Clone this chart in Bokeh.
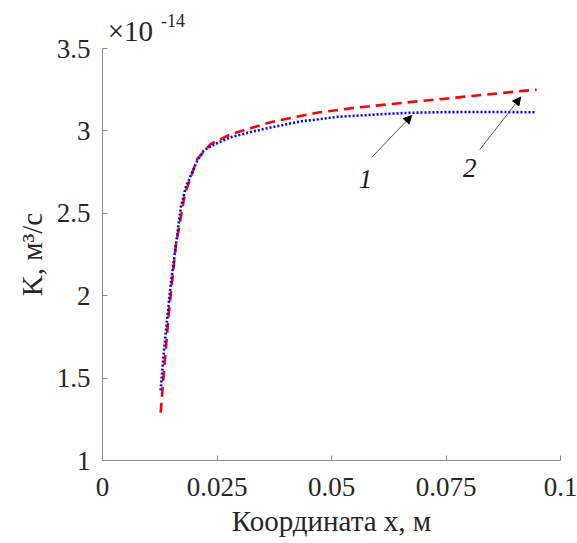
from bokeh.plotting import figure
from bokeh.models import FixedTicker, Label, Arrow, NormalHead, Range1d, LinearAxis
from bokeh.embed import file_html
from bokeh.resources import INLINE

# Curve 1 (blue dotted), K in units of 1e-14 m^3/s
x1 = [0.0127, 0.0134, 0.0149, 0.0171, 0.0182, 0.0207, 0.0221, 0.0229, 0.025, 0.028,
      0.0352, 0.0433, 0.0461, 0.0512, 0.060, 0.0672, 0.075, 0.085, 0.0944]
y1 = [1.425, 1.66, 2.07, 2.535, 2.66, 2.82, 2.88, 2.895, 2.925, 2.962,
      3.012, 3.058, 3.067, 3.085, 3.10, 3.11, 3.114, 3.115, 3.113]

# Curve 2 (red dashed)
x2 = [0.0127, 0.0133, 0.0145, 0.016, 0.018, 0.0207, 0.0236, 0.028, 0.0367, 0.0432,
      0.0468, 0.055, 0.0672, 0.08, 0.0918, 0.0948]
y2 = [1.29, 1.5, 1.9, 2.3, 2.62, 2.83, 2.92, 2.98, 3.053, 3.09,
      3.11, 3.14, 3.175, 3.21, 3.243, 3.25]

x_ticks = [0, 0.025, 0.05, 0.075, 0.1]
x_tick_labels = ["0", "0.025", "0.05", "0.075", "0.1"]
y_ticks = [1, 1.5, 2, 2.5, 3, 3.5]
y_tick_labels = ["1", "1.5", "2", "2.5", "3", "3.5"]
exp_base = "×10"
exp_power = "-14"

FONT = "Liberation Serif"

p = figure(width=577, height=543, output_backend="svg", toolbar_location=None,
           x_range=Range1d(0, 0.1), y_range=Range1d(1, 3.5),
           min_border_left=102, min_border_right=17, min_border_top=48, min_border_bottom=83)
p.outline_line_color = None
p.grid.visible = False
p.background_fill_color = "white"

xa = p.below[0]
ya = p.left[0]


def text_axis(pos, label, size, standoff):
    ax = LinearAxis(ticker=FixedTicker(ticks=[pos]),
                    major_label_overrides={pos: label})
    ax.axis_line_color = None
    ax.major_tick_line_color = None
    ax.minor_tick_line_color = None
    ax.major_tick_in = 0
    ax.major_tick_out = 0
    ax.major_label_text_font = FONT
    ax.major_label_text_font_size = size
    ax.major_label_text_color = "#262626"
    ax.major_label_standoff = standoff
    return ax


# exponent multiplier drawn as two stacked "above" text axes
p.add_layout(text_axis(0.0061, exp_base, "29px", 2), "above")
p.add_layout(text_axis(0.0154, exp_power, "18px", -15), "above")

p.line(x2, y2, line_color="#ff0000", line_width=2.6, line_dash="10 6")
p.line(x1, y1, line_color="#0000ff", line_width=2.6, line_dash="2 2")

for ax in (xa, ya):
    ax.axis_line_color = "#8c8c8c"
    ax.major_tick_line_color = "#8c8c8c"
    ax.minor_tick_line_color = None
    ax.major_tick_in = 5
    ax.major_tick_out = 0
    ax.major_label_text_font = FONT
    ax.major_label_text_font_size = "27px"
    ax.major_label_text_color = "#262626"
    ax.axis_label_text_font = FONT
    ax.axis_label_text_font_size = "29px"
    ax.axis_label_text_font_style = "normal"
    ax.axis_label_text_color = "#262626"

xa.ticker = FixedTicker(ticks=x_ticks)
xa.major_label_overrides = dict(zip(x_ticks, x_tick_labels))
ya.ticker = FixedTicker(ticks=y_ticks)
ya.major_label_overrides = dict(zip(y_ticks, y_tick_labels))
xa.axis_label = "Координата x, м"
ya.axis_label = "K, м³/с"
xa.major_label_standoff = 17
ya.major_label_standoff = 12
xa.axis_label_standoff = 6
ya.axis_label_standoff = 6

# arrows and curve numbers
p.add_layout(Arrow(x_start=0.0588, y_start=2.84, x_end=0.0675, y_end=3.093,
                   line_color="#444444", line_width=0.9,
                   end=NormalHead(size=8, fill_color="black", line_color="black")))
p.add_layout(Arrow(x_start=0.0824, y_start=2.887, x_end=0.0913, y_end=3.205,
                   line_color="#444444", line_width=0.9,
                   end=NormalHead(size=8, fill_color="black", line_color="black")))
p.add_layout(Label(x=0.0574, y=2.711, text="1", text_font=FONT, text_font_size="27px",
                   text_font_style="italic", text_align="center", text_baseline="middle",
                   text_color="#1a1a1a"))
p.add_layout(Label(x=0.0802, y=2.772, text="2", text_font=FONT, text_font_size="27px",
                   text_font_style="italic", text_align="center", text_baseline="middle",
                   text_color="#1a1a1a"))

open("out.html", "w").write(file_html(p, INLINE))
